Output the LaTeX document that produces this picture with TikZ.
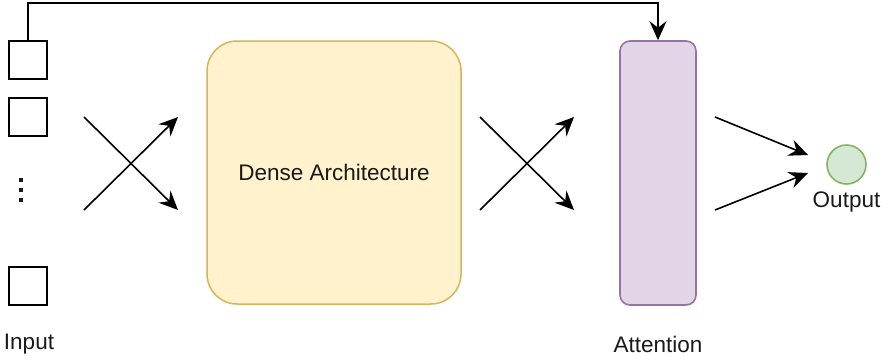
\documentclass[tikz,border=0pt]{standalone}
\usepackage{fontspec}
\setmainfont{Liberation Sans}
\usetikzlibrary{arrows.meta, positioning, calc}
\definecolor{DenseFill}{HTML}{FFF2CC}
\definecolor{DenseLine}{HTML}{D6B656}
\definecolor{AttnFill}{HTML}{E1D5E7}
\definecolor{AttnLine}{HTML}{9673A6}
\definecolor{OutFill}{HTML}{D5E8D4}
\definecolor{OutLine}{HTML}{82B366}
\definecolor{InkGray}{HTML}{1A1A1A}

\begin{document}
\begin{tikzpicture}[x=1pt, y=-1pt,
    every node/.style={font=\fontsize{22.5}{26}\selectfont, text=InkGray},
    inbox/.style={draw, line width=1.8pt, minimum size=38pt, inner sep=0pt},
    arr/.style={-{Stealth[length=19pt, width=17pt, inset=6.5pt]}, line width=1.6pt}]
  \useasboundingbox (0,0) rectangle (890,359);

  % input column
  \node[inbox] (in1) at (28,60) {};
  \node[inbox] (in2) at (28,117) {};
  \node[inbox] (in3) at (28,286) {};
  \foreach \y in {180,190,200}
    \fill[InkGray] (19.2,\y-1.8) rectangle ++(3.6,3.6);
  \node (inlabel) at (29,344) {Input};

  % blocks
  \node[draw=DenseLine, fill=DenseFill, line width=1.5pt, rounded corners=30pt,
        minimum width=254pt, minimum height=263pt] (dense) at (334,172.5) {Dense Architecture};
  \node[draw=AttnLine, fill=AttnFill, line width=1.6pt, rounded corners=10pt,
        minimum width=76pt, minimum height=264pt] (att) at (658,173) {};
  \node (attlabel) at (658,344) {Attention};
  \node[circle, draw=OutLine, fill=OutFill, line width=1.6pt, minimum size=39pt,
        inner sep=0pt] (out) at (846.5,164.5) {};
  \node[below=3pt of out] (outlabel) {Output};

  % crossing connections
  \foreach \x/\n in {84/a, 480/b} {
    \coordinate (\n tl) at (\x,117);
    \coordinate (\n bl) at (\x,210);
    \coordinate (\n tr) at (\x+94,117);
    \coordinate (\n br) at (\x+94,210);
    \draw[arr] (\n tl) -- (\n br);
    \draw[arr] (\n bl) -- (\n tr);
  }

  % attention to output
  \coordinate (o1) at (715,117);
  \coordinate (o2) at (715,210);
  \draw[arr] (o1) -- (808,155);
  \draw[arr] (o2) -- (808,173);

  % skip connection
  \draw[arr, line width=1.8pt] (in1.north) -- ++(0,-37) -| (att.north);
\end{tikzpicture}
\end{document}
